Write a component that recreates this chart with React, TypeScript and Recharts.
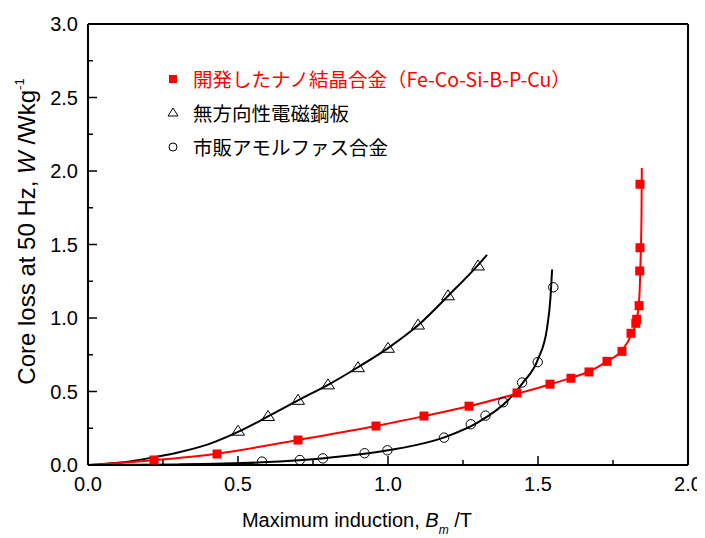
import { ComposedChart, Line, Scatter, XAxis, YAxis } from "recharts";

// measured points (B_m in T, W in W/kg)
const devX = [0.22, 0.43, 0.70, 0.96, 1.12, 1.27, 1.43, 1.54, 1.61, 1.67, 1.73, 1.78, 1.81, 1.826, 1.829, 1.837, 1.839, 1.84, 1.84];
const devY = [0.034, 0.075, 0.17, 0.265, 0.333, 0.40, 0.49, 0.55, 0.59, 0.633, 0.705, 0.773, 0.896, 0.964, 0.991, 1.084, 1.32, 1.478, 1.91];

const siX = [0.5, 0.6, 0.7, 0.8, 0.9, 1.0, 1.1, 1.2, 1.3];
const siY = [0.23, 0.33, 0.44, 0.545, 0.662, 0.794, 0.952, 1.151, 1.354];

const amoX = [0.58, 0.706, 0.783, 0.922, 0.998, 1.187, 1.276, 1.325, 1.384, 1.447, 1.499, 1.551];
const amoY = [0.023, 0.034, 0.045, 0.08, 0.10, 0.186, 0.277, 0.336, 0.427, 0.561, 0.70, 1.209];

// fitted curves
const devFitX = [0, 0.22, 0.43, 0.7, 0.96, 1.12, 1.27, 1.43, 1.54, 1.61, 1.67, 1.73, 1.78, 1.81, 1.83, 1.838, 1.842, 1.845, 1.846];
const devFitY = [0, 0.033, 0.077, 0.17, 0.265, 0.333, 0.40, 0.485, 0.548, 0.593, 0.636, 0.705, 0.78, 0.88, 1.0, 1.15, 1.4, 1.7, 2.02];

const siFitX = [0, 0.1, 0.2, 0.3, 0.4, 0.5, 0.6, 0.7, 0.8, 0.9, 1.0, 1.1, 1.2, 1.3, 1.33];
const siFitY = [0, 0.015, 0.045, 0.085, 0.14, 0.225, 0.33, 0.44, 0.545, 0.665, 0.795, 0.95, 1.15, 1.36, 1.43];

const amoFitX = [0, 0.3, 0.58, 0.78, 1.0, 1.19, 1.3, 1.4, 1.45, 1.5, 1.53, 1.542, 1.547];
const amoFitY = [0, 0.004, 0.018, 0.045, 0.10, 0.19, 0.29, 0.44, 0.56, 0.72, 0.93, 1.15, 1.33];

const xTicks = [0, 0.25, 0.5, 0.75, 1.0, 1.25, 1.5, 1.75, 2.0];
const yTicks = [0, 0.25, 0.5, 0.75, 1.0, 1.25, 1.5, 1.75, 2.0, 2.25, 2.5, 2.75, 3.0];

const zip = (xs: number[], ys: number[]) => xs.map((x, i) => ({ x, y: ys[i] }));

const RED = "#ff0000";
const tickFont = "'Liberation Sans', Arial, sans-serif";
const jpFont = "'Noto Sans CJK JP', 'Noto Sans', sans-serif";

const isMajor = (v: number) => Math.abs(v * 2 - Math.round(v * 2)) < 1e-6;

// ticks point inwards; labels only on bottom/left majors
function makeTick(side: "bottom" | "top" | "left" | "right") {
  return (props: any) => {
    const { x, y, payload } = props;
    const v = payload.value as number;
    const len = isMajor(v) ? 9 : 5;
    let line;
    if (side === "bottom") line = <line x1={x} x2={x} y1={y} y2={y - len} />;
    else if (side === "top") line = <line x1={x} x2={x} y1={y} y2={y + len} />;
    else if (side === "left") line = <line x1={x} x2={x + len} y1={y} y2={y} />;
    else line = <line x1={x} x2={x - len} y1={y} y2={y} />;
    return (
      <g stroke="#000" strokeWidth={1.5}>
        {line}
        {side === "bottom" && isMajor(v) && (
          <text x={x} y={y + 26} textAnchor="middle" fontSize={20} fontFamily={tickFont} fill="#000" stroke="none">
            {v.toFixed(1)}
          </text>
        )}
        {side === "left" && isMajor(v) && (
          <text x={x - 10} y={y + 7} textAnchor="end" fontSize={20} fontFamily={tickFont} fill="#000" stroke="none">
            {v.toFixed(1)}
          </text>
        )}
      </g>
    );
  };
}

const Square = (p: any) => <rect x={p.cx - 4.5} y={p.cy - 4.5} width={9} height={9} fill={RED} />;
const Triangle = (p: any) => (
  <path d={`M${p.cx},${p.cy - 6} L${p.cx + 6.5},${p.cy + 4} L${p.cx - 6.5},${p.cy + 4} Z`} fill="none" stroke="#000" strokeWidth={1} />
);
const Circle = (p: any) => <circle cx={p.cx} cy={p.cy} r={4.7} fill="none" stroke="#000" strokeWidth={1} />;

const axisLine = { stroke: "#000", strokeWidth: 2 };

export default function App() {
  return (
    <div style={{ position: "relative", width: 697, height: 530, background: "#fff" }}>
      <ComposedChart width={697} height={530} margin={{ top: 15, right: 16, bottom: 72, left: 79 }}>
        <XAxis xAxisId="b" dataKey="x" type="number" domain={[0, 2]} ticks={xTicks} interval={0} height={1}
          tickSize={0} tickMargin={0} tickLine={false} axisLine={axisLine} tick={makeTick("bottom")} allowDataOverflow />
        <XAxis xAxisId="t" orientation="top" type="number" domain={[0, 2]} ticks={xTicks} interval={0} height={1}
          tickSize={0} tickMargin={0} tickLine={false} axisLine={axisLine} tick={makeTick("top")} />
        <YAxis yAxisId="l" dataKey="y" type="number" domain={[0, 3]} ticks={yTicks} interval={0} width={1}
          tickSize={0} tickMargin={0} tickLine={false} axisLine={axisLine} tick={makeTick("left")} allowDataOverflow />
        <YAxis yAxisId="r" orientation="right" type="number" domain={[0, 3]} ticks={yTicks} interval={0} width={1}
          tickSize={0} tickMargin={0} tickLine={false} axisLine={axisLine} tick={makeTick("right")} />

        <Line xAxisId="b" yAxisId="l" data={zip(siFitX, siFitY)} dataKey="y" type="monotone" stroke="#000" strokeWidth={2} dot={false} activeDot={false} isAnimationActive={false} />
        <Line xAxisId="b" yAxisId="l" data={zip(amoFitX, amoFitY)} dataKey="y" type="monotone" stroke="#000" strokeWidth={2} dot={false} activeDot={false} isAnimationActive={false} />
        <Line xAxisId="b" yAxisId="l" data={zip(devFitX, devFitY)} dataKey="y" type="monotone" stroke={RED} strokeWidth={2} dot={false} activeDot={false} isAnimationActive={false} />

        <Scatter xAxisId="b" yAxisId="l" data={zip(siX, siY)} dataKey="y" shape={Triangle} isAnimationActive={false} />
        <Scatter xAxisId="b" yAxisId="l" data={zip(amoX, amoY)} dataKey="y" shape={Circle} isAnimationActive={false} />
        <Scatter xAxisId="b" yAxisId="l" data={zip(devX, devY)} dataKey="y" shape={Square} isAnimationActive={false} />
      </ComposedChart>

      {/* legend */}
      <div style={{ position: "absolute", left: 158, top: 54, fontFamily: jpFont, fontSize: 19.5, lineHeight: "34px" }}>
        <div style={{ display: "flex", alignItems: "center", color: RED }}>
          <svg width={27} height={14}><rect x={3} y={3} width={8} height={8} fill={RED} /></svg>
          <span>開発したナノ結晶合金（Fe-Co-Si-B-P-Cu）</span>
        </div>
        <div style={{ display: "flex", alignItems: "center", color: "#000" }}>
          <svg width={27} height={14}><path d="M7,2 L12,10 L2,10 Z" fill="none" stroke="#000" strokeWidth={1} /></svg>
          <span>無方向性電磁鋼板</span>
        </div>
        <div style={{ display: "flex", alignItems: "center", color: "#000" }}>
          <svg width={27} height={14}><circle cx={7} cy={7} r={4} fill="none" stroke="#000" strokeWidth={1} /></svg>
          <span>市販アモルファス合金</span>
        </div>
      </div>

      {/* x axis title */}
      <div style={{ position: "absolute", left: 149, width: 400, top: 502, textAlign: "center", fontFamily: tickFont, fontSize: 20, lineHeight: "20px", whiteSpace: "nowrap" }}>
        Maximum induction, <i>B</i>
        <sub style={{ fontSize: 12, fontStyle: "italic", verticalAlign: -7 }}>m</sub> /T
      </div>

      {/* y axis title */}
      <div style={{ position: "absolute", left: 15 - 200, width: 400, top: 220 - 12, textAlign: "center", fontFamily: tickFont, fontSize: 24, lineHeight: "24px", whiteSpace: "nowrap", transform: "rotate(-90deg)", transformOrigin: "center" }}>
        Core loss at 50 Hz, <i>W</i> /Wkg<sup style={{ fontSize: 13, verticalAlign: 11 }}>-1</sup>
      </div>
    </div>
  );
}
